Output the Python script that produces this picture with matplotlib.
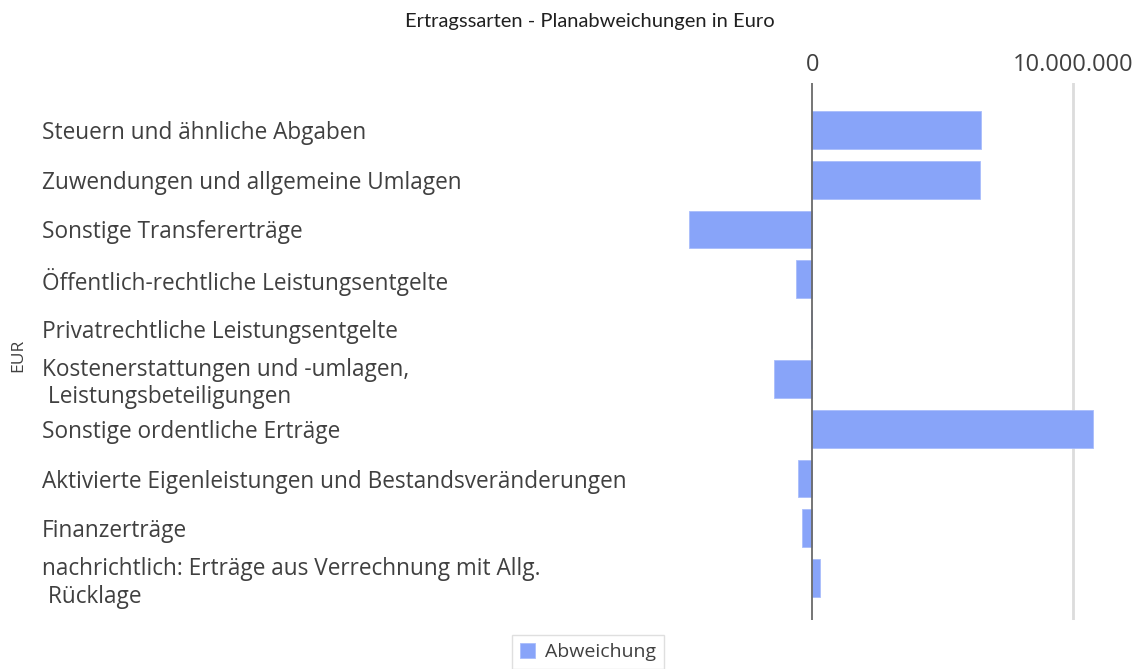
import matplotlib
matplotlib.use("Agg")
import matplotlib.pyplot as plt
from matplotlib.ticker import FuncFormatter

categories = [
    "Steuern und ähnliche Abgaben",
    "Zuwendungen und allgemeine Umlagen",
    "Sonstige Transfererträge",
    "Öffentlich-rechtliche Leistungsentgelte",
    "Privatrechtliche Leistungsentgelte",
    "Kostenerstattungen und -umlagen,\n Leistungsbeteiligungen",
    "Sonstige ordentliche Erträge",
    "Aktivierte Eigenleistungen und Bestandsveränderungen",
    "Finanzerträge",
    "nachrichtlich: Erträge aus Verrechnung mit Allg.\n Rücklage",
]
abweichung = [6460000, 6430000, -4720000, -630000, -30000,
              -1480000, 10780000, -560000, -380000, 300000]
xticks = [0, 10000000]

W, H = 1134, 669
fig = plt.figure(figsize=(W / 100, H / 100), dpi=100)
plt.rcParams['font.family'] = ['Open Sans', 'DejaVu Sans']

left_px, right_px, top_px, bot_px = 660, 1110, 83, 620
ax = fig.add_axes([left_px / W, 1 - bot_px / H, (right_px - left_px) / W, (bot_px - top_px) / H])

color = '#88a4f9'
ypos = list(range(len(categories)))
ax.barh(ypos, abweichung, height=0.76, color=color, edgecolor='#a9bdfb', linewidth=0.6,
        label='Abweichung', zorder=3)

ax.set_xlim(-5.84e6, 11.42e6)
ax.set_ylim(9.84, -0.94)

for s in ax.spines.values():
    s.set_visible(False)

ax.xaxis.tick_top()
ax.set_xticks(xticks)
ax.xaxis.set_major_formatter(FuncFormatter(lambda v, p: f"{int(v):,}".replace(",", ".")))
ax.tick_params(axis='x', length=0, pad=4, labelsize=17, labelcolor='#404040')
ax.axvline(10000000, color='#dcdcdc', linewidth=2, zorder=1)
ax.axvline(0, color='#6a6a6a', linewidth=1.3, zorder=4)

ax.set_yticks(ypos)
ax.set_yticklabels(categories, ha='left', fontsize=16.3, color='#404040', linespacing=1.2)
ax.tick_params(axis='y', length=0, pad=(left_px - 42) * 0.72)

fig.text(18 / W, 1 - 355 / H, 'EUR', rotation=90, ha='center', va='center',
         fontsize=12.5, color='#404040')
fig.text(590 / W, 1 - 22 / H, 'Ertragssarten - Planabweichungen in Euro', ha='center',
         va='center', fontsize=14.5, color='#202020', family=['Lato', 'DejaVu Sans'])

leg = fig.legend(loc='upper center', bbox_to_anchor=(588 / W, 1 - 635 / H),
                 frameon=True, fancybox=False, fontsize=14, handlelength=0.8,
                 handleheight=0.8, handletextpad=0.5, borderpad=0.4, borderaxespad=0)
leg.get_frame().set_edgecolor('#d8d8d8')
for t in leg.get_texts():
    t.set_color('#404040')

fig.savefig('out.png', dpi=100)
